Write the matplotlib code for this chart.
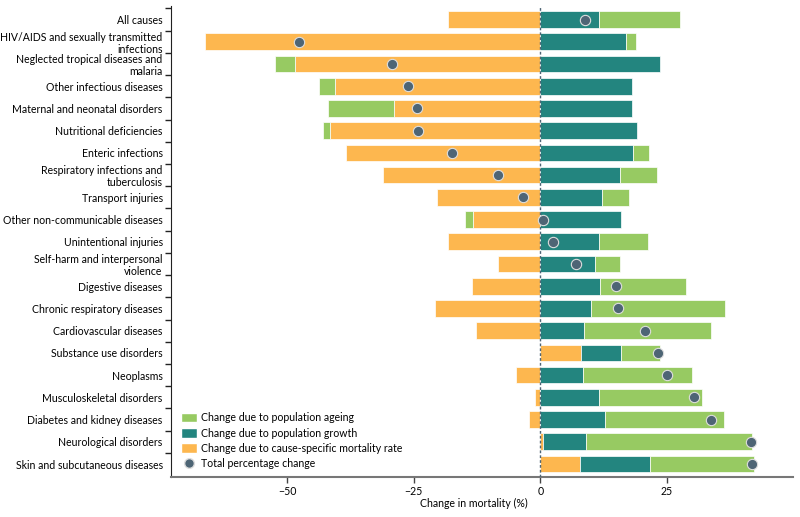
import numpy as np
import matplotlib
matplotlib.use("Agg")
import matplotlib.pyplot as plt
from matplotlib.patches import Patch
from matplotlib.lines import Line2D

plt.rcParams['font.family'] = ['Lato', 'DejaVu Sans']

# causes, top to bottom
causes = [
    "All causes",
    "HIV/AIDS and sexually transmitted\ninfections",
    "Neglected tropical diseases and\nmalaria",
    "Other infectious diseases",
    "Maternal and neonatal disorders",
    "Nutritional deficiencies",
    "Enteric infections",
    "Respiratory infections and\ntuberculosis",
    "Transport injuries",
    "Other non-communicable diseases",
    "Unintentional injuries",
    "Self-harm and interpersonal\nviolence",
    "Digestive diseases",
    "Chronic respiratory diseases",
    "Cardiovascular diseases",
    "Substance use disorders",
    "Neoplasms",
    "Musculoskeletal disorders",
    "Diabetes and kidney diseases",
    "Neurological disorders",
    "Skin and subcutaneous diseases",
]

# contributions to change in mortality (%)
mortality_rate = [-18.3, -66.2, -48.5, -40.5, -29.0, -41.6, -38.5, -31.0, -20.5, -13.3, -18.3,
                  -8.4, -13.4, -20.75, -12.6, 8.1, -4.7, -1.05, -2.3, 0.5, 7.85]
pop_growth = [11.7, 16.9, 23.6, 18.1, 18.2, 19.2, 18.4, 15.75, 12.2, 15.9, 11.6,
              10.8, 11.8, 10.0, 8.6, 7.8, 8.4, 11.7, 12.9, 8.6, 13.95]
pop_ageing = [15.9, 2.0, -3.9, -3.2, -13.0, -1.3, 3.1, 7.4, 5.4, -1.6, 9.7,
              5.0, 17.0, 26.6, 25.1, 7.75, 21.7, 20.2, 23.5, 32.8, 20.4]
total_change = [8.8, -47.7, -29.3, -26.1, -24.4, -24.2, -17.4, -8.4, -3.4, 0.5, 2.6,
                7.0, 15.0, 15.4, 20.7, 23.3, 25.0, 30.5, 33.7, 41.6, 41.8]

c_ageing = "#97CA62"
c_growth = "#23857F"
c_rate = "#FDB74F"
c_dot = "#4E6575"
fs = 7.6

fig = plt.figure(figsize=(8, 5.17), dpi=100)
ax = fig.add_axes([0.2138, 0.078, 0.7775, 0.91])

y = np.arange(len(causes))
pos_base = np.zeros(len(causes))
neg_base = np.zeros(len(causes))
for vals, col in [(mortality_rate, c_rate), (pop_growth, c_growth), (pop_ageing, c_ageing)]:
    v = np.array(vals)
    left = np.where(v >= 0, pos_base, neg_base)
    ax.barh(y, v, left=left, height=0.75, color=col, edgecolor="white", linewidth=0.5, zorder=2)
    pos_base = np.where(v >= 0, pos_base + v, pos_base)
    neg_base = np.where(v < 0, neg_base + v, neg_base)

ax.axvline(0, color=c_dot, linestyle=(0, (2, 1.5)), linewidth=1, zorder=3)
ax.scatter(total_change, y, s=55, color=c_dot, edgecolor="#dddddd", linewidth=0.8, zorder=4)

ax.set_xlim(-73, 50)
ax.set_ylim(20.57, -0.6)
ax.set_xticks([-50, -25, 0, 25])
ax.set_yticks(y)
ax.set_yticklabels(causes, fontsize=fs, linespacing=1.15)
ax.set_yticks(np.arange(-0.5, len(causes) - 1, 1), minor=True)
ax.tick_params(axis="y", which="major", length=0, pad=6)
ax.tick_params(axis="y", which="minor", length=4, width=1, color="#222222")
ax.tick_params(axis="x", length=4, width=1, color="#444444", labelsize=fs, pad=3)

for s in ["top", "right"]:
    ax.spines[s].set_visible(False)
ax.spines["left"].set_color("#222222")
ax.spines["bottom"].set_color("#777777")
ax.spines["bottom"].set_linewidth(1.5)

fig.text(474 / 800, 1 - 503 / 517, "Change in mortality (%)", ha="center", va="center", fontsize=fs)

handles = [
    Patch(facecolor=c_ageing, edgecolor="white"),
    Patch(facecolor=c_growth, edgecolor="white"),
    Patch(facecolor=c_rate, edgecolor="white"),
    Line2D([], [], marker="o", linestyle="none", markersize=7, color=c_dot,
           markeredgecolor="#dddddd"),
]
labels = [
    "Change due to population ageing",
    "Change due to population growth",
    "Change due to cause-specific mortality rate",
    "Total percentage change",
]
ax.legend(handles, labels, loc="lower left", bbox_to_anchor=(181 / 800, 1 - 469 / 517),
          bbox_transform=fig.transFigure, frameon=False, fontsize=fs, borderpad=0,
          borderaxespad=0, handlelength=1.5, handleheight=1.0, handletextpad=0.4,
          labelspacing=0.4)

fig.savefig("out.png", dpi=100)
